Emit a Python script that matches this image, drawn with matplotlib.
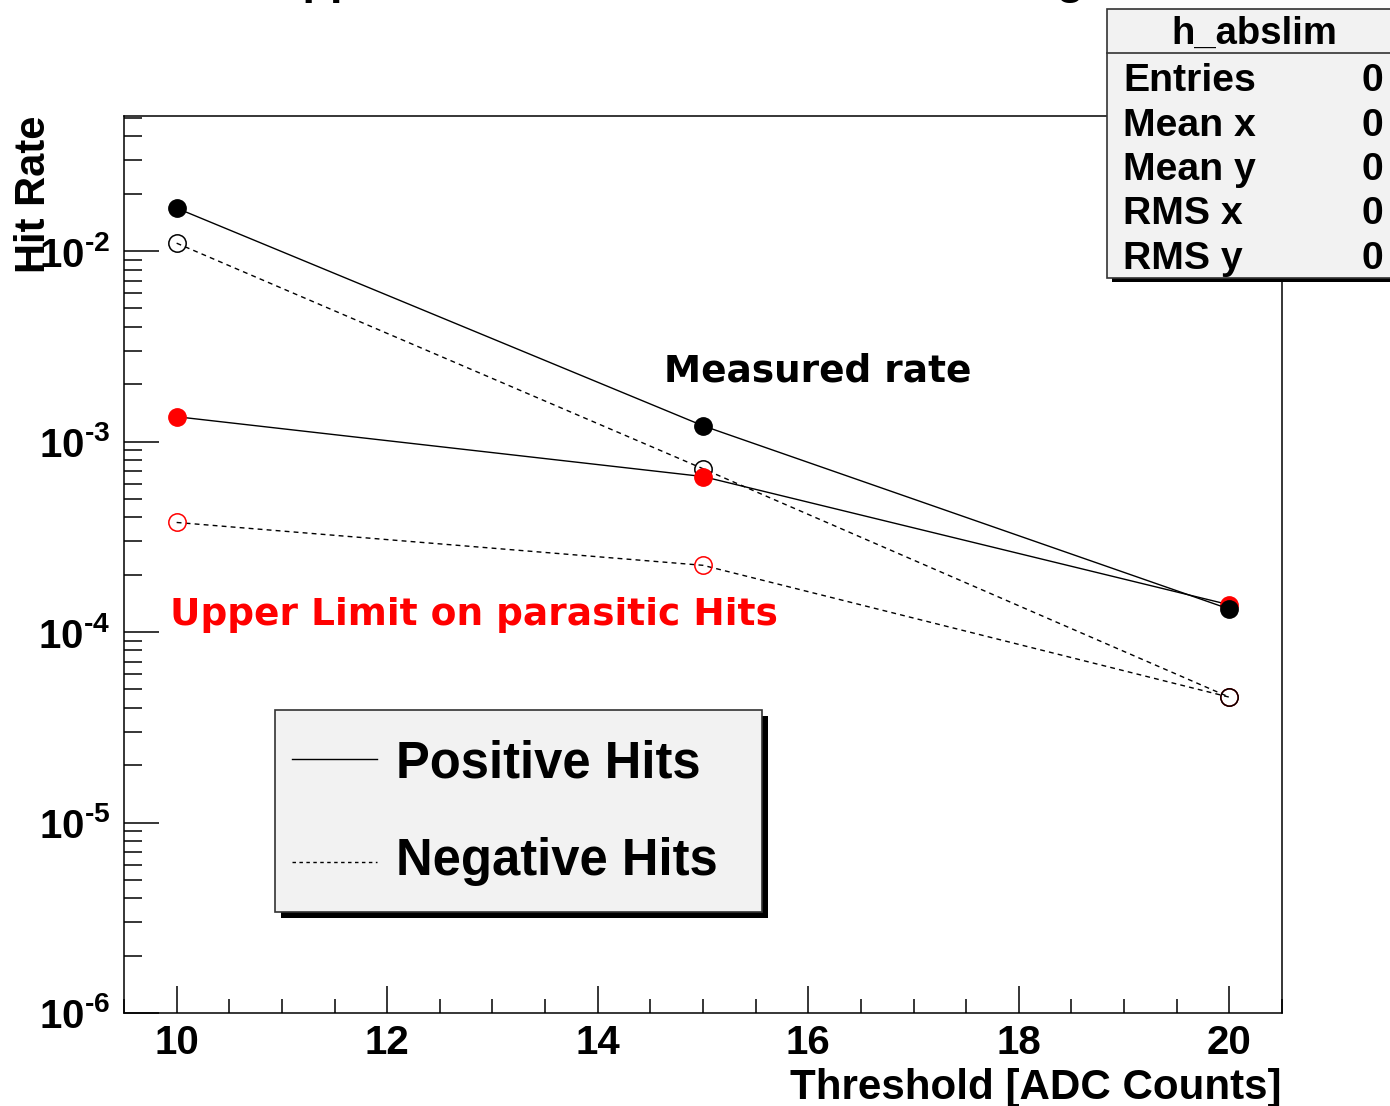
import numpy as np
import matplotlib
matplotlib.use("Agg")
import matplotlib.pyplot as plt
from matplotlib.patches import Rectangle
from matplotlib.lines import Line2D
from matplotlib.ticker import LogLocator, MultipleLocator, FixedLocator, NullFormatter, FuncFormatter

plt.rcParams['font.family'] = ['Liberation Sans', 'DejaVu Sans']
plt.rcParams['font.weight'] = 'bold'
plt.rcParams['mathtext.fontset'] = 'custom'
plt.rcParams['mathtext.rm'] = 'Liberation Sans:bold'
plt.rcParams['mathtext.it'] = 'Liberation Sans:bold'
plt.rcParams['mathtext.bf'] = 'Liberation Sans:bold'

# hit rates per threshold setting
thresholds = [10, 15, 20]
pos_rate = [1.68e-2, 1.21e-3, 1.32e-4]
neg_rate = [1.10e-2, 7.2e-4, 4.55e-5]
pos_limit = [1.35e-3, 6.55e-4, 1.39e-4]
neg_limit = [3.76e-4, 2.24e-4, 4.55e-5]

stat_names = ["Entries", "Mean x", "Mean y", "RMS x", "RMS y"]
stat_values = ["0", "0", "0", "0", "0"]

W, H = 1390, 1106


def px(x, y):
    # pixel position from the top left corner -> figure fraction
    return x / W, 1 - y / H


fig = plt.figure(figsize=(W / 100, H / 100), dpi=100)
x0, y1 = px(124, 116)
x1, y0 = px(1282, 1013)
ax = fig.add_axes([x0, y0, x1 - x0, y1 - y0])

dash = (0, (3.5, 3))
ms = 12.5
ax.plot(thresholds, neg_limit, color='k', lw=1, ls=dash, marker='o', ms=ms,
        mfc='none', mec='red', mew=1.1, zorder=3)
ax.plot(thresholds, neg_rate, color='k', lw=1, ls=dash, marker='o', ms=ms,
        mfc='none', mec='black', mew=1.1, zorder=4)
ax.plot(thresholds, pos_limit, color='k', lw=1, marker='o', ms=ms,
        mfc='red', mec='red', zorder=5)
ax.plot(thresholds, pos_rate, color='k', lw=1, marker='o', ms=ms,
        mfc='black', mec='black', zorder=6)

ax.set_yscale('log')
ax.set_xlim(9.5, 20.5)
ax.set_ylim(1e-6, 10 ** -1.291)

ax.xaxis.set_major_locator(FixedLocator([10, 12, 14, 16, 18, 20]))
ax.xaxis.set_minor_locator(MultipleLocator(0.5))
ax.yaxis.set_major_locator(LogLocator(base=10, numticks=20))
ax.yaxis.set_minor_locator(LogLocator(base=10, subs=np.arange(2, 10), numticks=20))
ax.yaxis.set_minor_formatter(NullFormatter())


def decade_label(v, pos):
    e = int(round(np.log10(v)))
    return r'$\mathregular{10^{\text{-%d}}}$' % abs(e) if e < 0 else r'$\mathregular{10^{%d}}$' % e


ax.yaxis.set_major_formatter(FuncFormatter(decade_label))

ax.tick_params(axis='both', which='both', direction='in', top=False, right=False,
               width=1.1, colors='black')
ax.tick_params(axis='y', which='major', length=25, pad=10, labelsize=29)
ax.tick_params(axis='y', which='minor', length=13)
ax.tick_params(axis='x', which='major', length=19.5, pad=8, labelsize=29)
ax.tick_params(axis='x', which='minor', length=10)
for lab in ax.get_xticklabels() + ax.get_yticklabels():
    lab.set_fontweight('bold')
for s in ax.spines.values():
    s.set_linewidth(1.1)

# axis titles
fig.text(*px(34, 116), "Hit Rate", rotation=90, ha='center', va='top',
         fontsize=30, fontweight='bold')
fig.text(*px(1282, 1068), "Threshold [ADC Counts]", ha='right', va='top',
         fontsize=30.3, fontweight='bold')

# plot title, cut by the top edge of the canvas
fig.text(*px(270, -6.3), "Upper Limit vs ADC Threshold Setting", ha='left',
         va='baseline', fontsize=32.4, fontweight='bold')

# annotations
fig.text(*px(664, 381), "Measured rate", ha='left', va='baseline',
         fontsize=26.9, fontweight='bold', family='DejaVu Sans')
fig.text(*px(170, 625), "Upper Limit on parasitic Hits", ha='left', va='baseline',
         fontsize=27, fontweight='bold', family='DejaVu Sans', color='red')

# legend box with shadow
lx0, ly0, lx1, ly1 = 275, 710, 762, 912
sh = 6
fig.patches.append(Rectangle(px(lx0 + sh, ly1 + sh), (lx1 - lx0) / W, (ly1 - ly0) / H,
                             transform=fig.transFigure, facecolor='black',
                             edgecolor='black', lw=0, zorder=8))
fig.patches.append(Rectangle(px(lx0, ly1), (lx1 - lx0) / W, (ly1 - ly0) / H,
                             transform=fig.transFigure, facecolor='#f2f2f2',
                             edgecolor='#333333', lw=1.2, zorder=9))
for y_line, y_text, style, name in [(759, 778, '-', "Positive Hits"),
                                    (862, 875, (0, (2.5, 2.5)), "Negative Hits")]:
    (xa, ya), (xb, yb) = px(292, y_line), px(377, y_line)
    fig.lines.append(Line2D([xa, xb], [ya, yb], transform=fig.transFigure,
                            color='black', lw=1, ls=style, zorder=10))
    fig.text(*px(396, y_text), name, ha='left', va='baseline', fontsize=36.5,
             fontweight='bold', zorder=10)

# statistics box
bx0, by0, bx1, by1 = 1107, 9, 1400, 278
fig.patches.append(Rectangle(px(bx0 + 5, by1 + 4), (bx1 - bx0) / W, (by1 - by0) / H,
                             transform=fig.transFigure, facecolor='black',
                             edgecolor='black', lw=0, zorder=8))
fig.patches.append(Rectangle(px(bx0, by1), (bx1 - bx0) / W, (by1 - by0) / H,
                             transform=fig.transFigure, facecolor='#f2f2f2',
                             edgecolor='#333333', lw=1.2, zorder=9))
(xa, ya), (xb, yb) = px(bx0, 53), px(bx1, 53)
fig.lines.append(Line2D([xa, xb], [ya, yb], transform=fig.transFigure,
                        color='#333333', lw=1.2, zorder=10))
fig.text(*px(1254, 44), "h_abslim", ha='center', va='baseline', fontsize=27.5,
         fontweight='bold', zorder=10)
for i, (name, val) in enumerate(zip(stat_names, stat_values)):
    yb = 91 + i * 44.5
    fig.text(*px(1123, yb), name, ha='left', va='baseline', fontsize=28.3,
             fontweight='bold', zorder=10)
    fig.text(*px(1383, yb), val, ha='right', va='baseline', fontsize=28.3,
             fontweight='bold', zorder=10)

fig.savefig("out.png", dpi=100)
